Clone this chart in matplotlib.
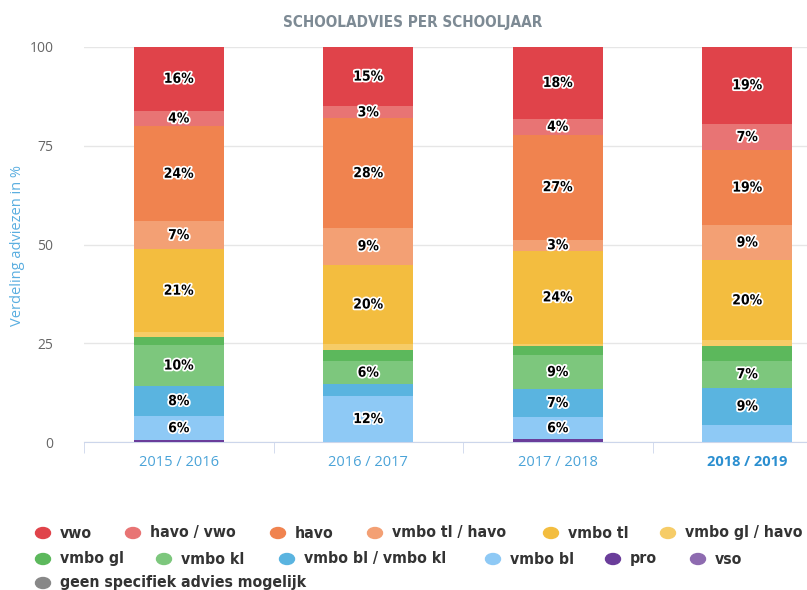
import numpy as np
import matplotlib.pyplot as plt
import matplotlib.patheffects as pe
from matplotlib import font_manager

plt.rcParams['font.family'] = ['Open Sans', 'DejaVu Sans']

# ======= data =======
years = ['2015 / 2016', '2016 / 2017', '2017 / 2018', '2018 / 2019']

# stacked from bottom to top
vso = [0.0, 0.0, 0.0, 0.0]
pro = [0.5, 0.0, 0.7, 0.0]
vmbo_bl = [6.0, 11.6, 5.6, 4.3]
vmbo_bl_kl = [7.7, 3.0, 7.1, 9.4]
vmbo_kl = [10.3, 5.9, 8.6, 6.9]
vmbo_gl = [2.0, 2.7, 2.2, 3.8]
vmbo_gl_havo = [1.3, 1.5, 0.6, 1.3]
vmbo_tl = [21.0, 20.2, 23.6, 20.3]
vmbo_tl_havo = [7.1, 9.3, 2.8, 9.0]
havo = [24.0, 27.7, 26.6, 18.8]
havo_vwo = [4.0, 3.1, 4.0, 6.8]
vwo = [16.1, 15.0, 18.2, 19.4]
geen = [0.0, 0.0, 0.0, 0.0]

# legend order (top to bottom of stack)
series = [
    ('vwo', vwo, '#e0434a'),
    ('havo / vwo', havo_vwo, '#e87474'),
    ('havo', havo, '#f0834f'),
    ('vmbo tl / havo', vmbo_tl_havo, '#f3a074'),
    ('vmbo tl', vmbo_tl, '#f3bd3f'),
    ('vmbo gl / havo', vmbo_gl_havo, '#f6cc67'),
    ('vmbo gl', vmbo_gl, '#5cb85c'),
    ('vmbo kl', vmbo_kl, '#7dc77d'),
    ('vmbo bl / vmbo kl', vmbo_bl_kl, '#5ab4e0'),
    ('vmbo bl', vmbo_bl, '#8ec9f5'),
    ('pro', pro, '#6a3d9a'),
    ('vso', vso, '#8e6bb0'),
    ('geen specifiek advies mogelijk', geen, '#888888'),
]

# labels that the original chart hides (overlap)
hidden = {('vmbo bl / vmbo kl', 1), ('vmbo bl', 3), ('vmbo gl', 3)}

# condensed font if there is one
names = {f.name for f in font_manager.fontManager.ttflist}
cond = {'family': 'DejaVu Sans', 'stretch': 'condensed'}
if 'Liberation Sans Narrow' in names:
    cond = {'family': 'Liberation Sans Narrow'}

# ======= plot =======
W, H = 807, 590
fig = plt.figure(figsize=(W / 100, H / 100), dpi=100)
ax = fig.add_axes([84 / W, 1 - 442 / H, 758 / W, 395 / H])

x = np.arange(len(years))
bottom = np.zeros(len(years))
for name, vals, col in reversed(series):
    vals = np.array(vals)
    ax.bar(x, vals, bottom=bottom, width=0.475, color=col, zorder=3, linewidth=0)
    for i, v in enumerate(vals):
        if v >= 2.8 and (name, i) not in hidden:
            ax.text(x[i], bottom[i] + v / 2, f'{int(round(v))}%', ha='center', va='center',
                    fontsize=10, fontweight='bold', color='black', zorder=5, **cond,
                    path_effects=[pe.withStroke(linewidth=2.5, foreground='white')])
    bottom += vals

ax.set_xlim(-0.5, 3.5)
ax.set_ylim(0, 100)
ax.set_yticks([0, 25, 50, 75, 100])
ax.yaxis.grid(True, color='#e6e6e6', linewidth=1, zorder=0)
ax.set_axisbelow(True)
for s in ['top', 'right', 'left']:
    ax.spines[s].set_visible(False)
ax.spines['bottom'].set_color('#ccd6eb')
ax.tick_params(axis='y', length=0, labelsize=10, labelcolor='#666666', pad=22)
ax.set_xticks(x)
ax.set_xticklabels(years)
ax.set_xticks([-0.5, 0.5, 1.5, 2.5, 3.5], minor=True)
ax.tick_params(axis='x', which='major', length=0, labelsize=10.5, labelcolor='#4aa3d8', pad=9)
ax.tick_params(axis='x', which='minor', length=8, color='#ccd6eb')
lbls = ax.get_xticklabels()
lbls[-1].set_fontweight('bold')
lbls[-1].set_color('#2b8fd0')

fig.text(18 / W, 1 - 245 / H, 'Verdeling adviezen in %', rotation=90, ha='center', va='center',
         fontsize=10.5, color='#5aaee0')
fig.text(413 / W, 1 - 22 / H, 'SCHOOLADVIES PER SCHOOLJAAR', ha='center', va='center',
         fontsize=11, fontweight='bold', color='#7d8a94', **cond)

# legend, laid out like the original
leg_pos = [(43, 533), (133, 533), (278, 533), (375, 533), (551, 533), (668, 533),
           (43, 559), (164, 559), (287, 559), (493, 559), (613, 559), (698, 559),
           (43, 583)]
for (name, vals, col), (px, py) in zip(series, leg_pos):
    fig.patches.append(plt.Circle((px / W, 1 - py / H), 7.5 / W, transform=fig.transFigure,
                                  color=col, figure=fig))
    fig.text((px + 17) / W, 1 - py / H, name, ha='left', va='center', fontsize=11.3,
             fontweight='bold', color='#333333', **cond)

plt.savefig('out.png', dpi=100)
